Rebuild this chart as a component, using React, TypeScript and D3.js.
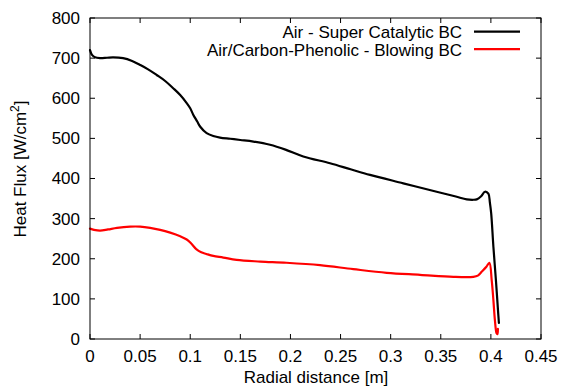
import React from 'react';
import * as d3 from 'd3';

const xTicks = [0, 0.05, 0.1, 0.15, 0.2, 0.25, 0.3, 0.35, 0.4, 0.45];
const yTicks = [0, 100, 200, 300, 400, 500, 600, 700, 800];

const airX = [0, 0.002, 0.005, 0.01, 0.017, 0.023, 0.033, 0.042, 0.05, 0.058, 0.0665, 0.075, 0.083, 0.09, 0.0965, 0.1, 0.103, 0.107, 0.11, 0.1164, 0.123, 0.1297, 0.14, 0.15, 0.163, 0.1796, 0.195, 0.2128, 0.2395, 0.26, 0.2794, 0.3126, 0.3459, 0.365, 0.3759, 0.3825, 0.3859, 0.39, 0.3941, 0.3975, 0.399, 0.4003, 0.4025, 0.405, 0.4073, 0.408];
const airY = [720, 708, 702, 700, 701, 702, 700, 693, 683, 672, 658, 643, 625, 608, 588, 575, 559, 542, 529, 513, 506, 502, 499, 496, 492, 484, 472, 455, 438, 423, 409, 388, 367, 355, 348, 347, 348, 355, 367, 362, 340, 313, 230, 147, 64, 40];

const blowX = [0, 0.004, 0.01, 0.018, 0.027, 0.04, 0.05, 0.06, 0.07, 0.08, 0.09, 0.0965, 0.101, 0.106, 0.111, 0.116, 0.123, 0.133, 0.1463, 0.17, 0.196, 0.2295, 0.2627, 0.296, 0.3293, 0.3626, 0.3825, 0.387, 0.391, 0.3955, 0.3985, 0.4008, 0.4025, 0.404, 0.4057, 0.4065, 0.407];
const blowY = [275, 272, 270, 273, 277, 280, 280, 277, 272, 265, 256, 248, 238, 224, 216, 212, 207, 203, 197, 193, 190, 184, 174, 165, 160, 155, 155, 158, 168, 180, 190, 147, 97, 47, 14, 12, 25];

const seriesNames = ['Air - Super Catalytic BC', 'Air/Carbon-Phenolic - Blowing BC'];
const seriesColors = ['#000000', '#ff0000'];

const W = 562, H = 392;
const L = 90, R = 541, T = 18, B = 339;
const FONT = '"Liberation Sans", Arial, Helvetica, sans-serif';

export default function App() {
  const x = d3.scaleLinear().domain([0, 0.45]).range([L, R]);
  const y = d3.scaleLinear().domain([0, 800]).range([B, T]);
  const line = d3.line<[number, number]>().x(d => x(d[0])).y(d => y(d[1])).curve(d3.curveCatmullRom.alpha(0.5));
  const s1 = airX.map((v, i) => [v, airY[i]] as [number, number]);
  const s2 = blowX.map((v, i) => [v, blowY[i]] as [number, number]);
  const series = [s1, s2];
  const tl = 5;
  return (
    <svg width={W} height={H} style={{ position: 'absolute', left: 0, top: 0, background: '#fff' }} fontFamily={FONT}>
      <rect x={0} y={0} width={W} height={H} fill="#fff" />
      {xTicks.map(t => (
        <g key={'x' + t}>
          <line x1={x(t)} x2={x(t)} y1={B} y2={B - tl} stroke="#000" strokeWidth={1} />
          <line x1={x(t)} x2={x(t)} y1={T} y2={T + tl} stroke="#000" strokeWidth={1} />
          <text x={x(t)} y={362} fontSize={17} textAnchor="middle" fill="#000">{String(t)}</text>
        </g>
      ))}
      {yTicks.map(t => (
        <g key={'y' + t}>
          <line x1={L} x2={L + tl} y1={y(t)} y2={y(t)} stroke="#000" strokeWidth={1} />
          <line x1={R} x2={R - tl} y1={y(t)} y2={y(t)} stroke="#000" strokeWidth={1} />
          <text x={80} y={y(t)} dy="0.35em" fontSize={17} textAnchor="end" fill="#000">{String(t)}</text>
        </g>
      ))}
      {series.map((s, i) => (
        <path key={i} d={line(s) || ''} fill="none" stroke={seriesColors[i]} strokeWidth={2.2} strokeLinejoin="round" strokeLinecap="round" />
      ))}
      <rect x={L} y={T} width={R - L} height={B - T} fill="none" stroke="#000" strokeWidth={1} />
      {seriesNames.map((n, i) => (
        <g key={n}>
          <text x={462} y={38 + i * 17.5} fontSize={17} textAnchor="end" fill="#000">{n}</text>
          <line x1={474} x2={520} y1={31.7 + i * 17.5} y2={31.7 + i * 17.5} stroke={seriesColors[i]} strokeWidth={2.2} />
        </g>
      ))}
      <text x={316} y={383} fontSize={17} textAnchor="middle" fill="#000">Radial distance [m]</text>
      <text transform="translate(26,169) rotate(-90)" fontSize={17} textAnchor="middle" fill="#000">
        Heat Flux [W/cm<tspan dy="-7" fontSize={12}>2</tspan><tspan dy="7">]</tspan>
      </text>
    </svg>
  );
}
